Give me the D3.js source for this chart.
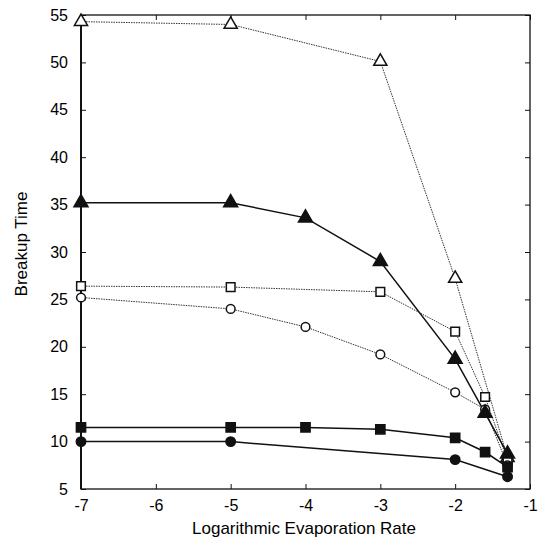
<!DOCTYPE html>
<html><head><meta charset="utf-8">
<script src="https://cdn.jsdelivr.net/npm/d3@7"></script>
<style>body{margin:0;background:#fff}svg text{font-family:"Liberation Sans",Arial,sans-serif;fill:#000}</style>
</head><body><div id="chart"></div>
<script>
const xTicks = [-7,-6,-5,-4,-3,-2,-1];
const yTicks = [5,10,15,20,25,30,35,40,45,50,55];
const xOpenTri = [-7,-5,-3,-2,-1.3];
const yOpenTri = [54.3,54.0,50.1,27.2,8.3];
const xFillTri = [-7,-5,-4,-3,-2,-1.6,-1.3];
const yFillTri = [35.2,35.2,33.6,29.0,18.7,13.0,8.7];
const xOpenSq = [-7,-5,-3,-2,-1.6,-1.3];
const yOpenSq = [26.4,26.3,25.8,21.6,14.7,8.0];
const xOpenCir = [-7,-5,-4,-3,-2,-1.6,-1.3];
const yOpenCir = [25.2,24.0,22.1,19.2,15.2,13.4,7.5];
const xFillSq = [-7,-5,-4,-3,-2,-1.6,-1.3];
const yFillSq = [11.5,11.5,11.5,11.3,10.4,8.9,7.3];
const xFillCir = [-7,-5,-2,-1.3];
const yFillCir = [10.0,10.0,8.1,6.3];

const series = [
  {xs:xOpenTri, ys:yOpenTri, shape:d3.symbolTriangle, fill:false, dash:true, size:75},
  {xs:xOpenSq, ys:yOpenSq, shape:d3.symbolSquare, fill:false, dash:true, size:75},
  {xs:xOpenCir, ys:yOpenCir, shape:d3.symbolCircle, fill:false, dash:true, size:60},
  {xs:xFillTri, ys:yFillTri, shape:d3.symbolTriangle, fill:true, dash:false, size:85},
  {xs:xFillSq, ys:yFillSq, shape:d3.symbolSquare, fill:true, dash:false, size:85},
  {xs:xFillCir, ys:yFillCir, shape:d3.symbolCircle, fill:true, dash:false, size:70}
];

const W=543,H=539, m={l:81,r:13,t:15,b:50};
const svg=d3.select("#chart").append("svg").attr("width",W).attr("height",H);
const x=d3.scaleLinear().domain([-7,-1]).range([m.l,W-m.r]);
const y=d3.scaleLinear().domain([5,55]).range([H-m.b,m.t]);

const g=svg.append("g");
g.append("rect").attr("x",m.l).attr("y",m.t).attr("width",W-m.r-m.l).attr("height",H-m.b-m.t)
 .attr("fill","none").attr("stroke","#111").attr("stroke-width",1.3);
g.append("line").attr("x1",m.l).attr("x2",m.l).attr("y1",m.t).attr("y2",H-m.b).attr("stroke","#111").attr("stroke-width",2);

const ax=(a,tr)=>{const s=svg.append("g").attr("transform",tr).call(a);s.select(".domain").remove();s.selectAll("line").attr("stroke","#111");return s;};
const bx=ax(d3.axisBottom(x).tickValues(xTicks).tickSize(-5).tickPadding(11).tickFormat(d3.format("d")),`translate(0,${H-m.b})`);
bx.selectAll("text").attr("font-size",16).text(d=>String(d).replace("−","-"));
ax(d3.axisTop(x).tickValues(xTicks).tickSize(-5).tickFormat(""),`translate(0,${m.t})`);
const ly=ax(d3.axisLeft(y).tickValues(yTicks).tickSize(-5).tickPadding(13),`translate(${m.l},0)`);
ly.selectAll("text").attr("font-size",16);
ax(d3.axisRight(y).tickValues(yTicks).tickSize(-5).tickFormat(""),`translate(${W-m.r},0)`);
svg.selectAll(".tick text").attr("fill","#000");

const line=d3.line().x(d=>x(d[0])).y(d=>y(d[1]));
series.forEach(s=>{
  const pts=s.xs.map((v,i)=>[v,s.ys[i]]);
  svg.append("path").datum(pts).attr("d",line).attr("fill","none")
    .attr("stroke",s.dash?"#333":"#111").attr("stroke-width",s.dash?1:1.5)
    .attr("stroke-dasharray",s.dash?"1.5,1":null);
});
series.forEach(s=>{
  const pts=s.xs.map((v,i)=>[v,s.ys[i]]);
  svg.append("g").selectAll("path").data(pts).join("path")
    .attr("d",d3.symbol().type(s.shape).size(s.size))
    .attr("transform",d=>`translate(${x(d[0])},${y(d[1])})`)
    .attr("fill",s.fill?"#111":"#fff").attr("stroke","#111").attr("stroke-width",1.5);
});

svg.append("text").attr("x",304).attr("y",H-5).attr("text-anchor","middle").attr("font-size",17).text("Logarithmic Evaporation Rate");
svg.append("text").attr("transform",`translate(27,${(m.t+H-m.b)/2-8}) rotate(-90)`).attr("text-anchor","middle").attr("font-size",17).text("Breakup Time");
</script></body></html>
